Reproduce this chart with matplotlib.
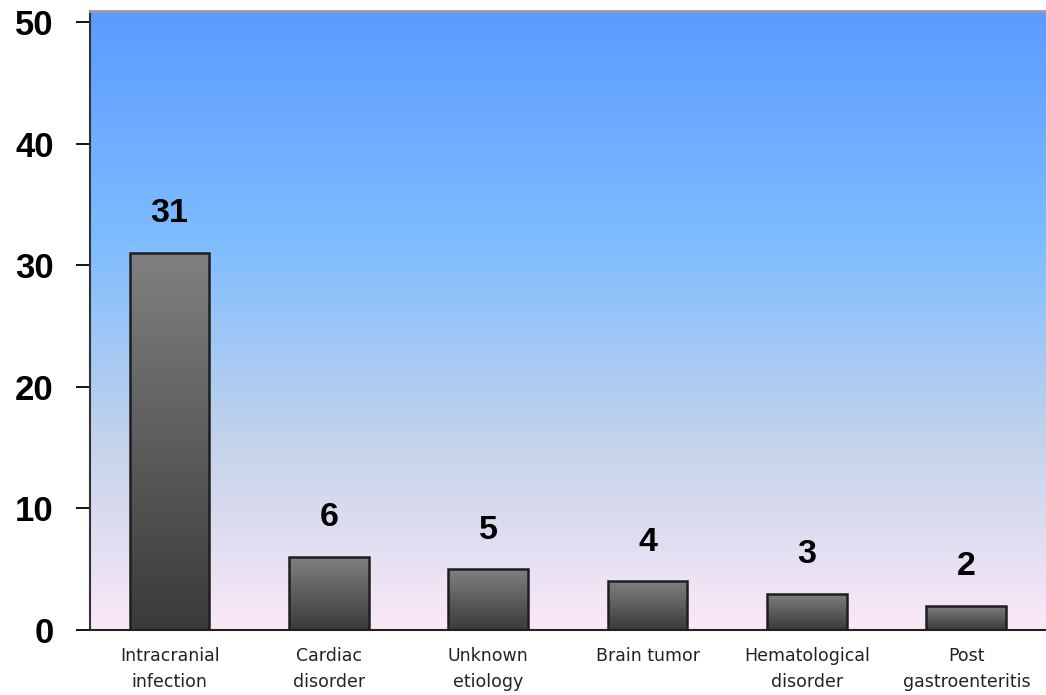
import matplotlib
matplotlib.use('Agg')
import matplotlib.pyplot as plt
import numpy as np
from matplotlib.colors import LinearSegmentedColormap

categories = ['Intracranial\ninfection', 'Cardiac\ndisorder', 'Unknown\netiology',
              'Brain tumor', 'Hematological\ndisorder', 'Post\ngastroenteritis']
counts = [31, 6, 5, 4, 3, 2]
yticks = [0, 10, 20, 30, 40, 50]

fig = plt.figure(figsize=(10.46, 6.95), dpi=100)
ax = fig.add_axes([0.086, 0.0935, 0.914, 0.8905])
ax.set_xlim(-0.5, len(categories) - 0.5)
ax.set_ylim(0, 50.9)

# background gradient: blue at top -> pale pink at bottom
bg_cmap = LinearSegmentedColormap.from_list(
    'bg', [(0.0, '#fbe8f7'), (0.30, '#c4d3ea'), (0.62, '#7fbdff'), (1.0, '#5b9bff')])
grad = np.linspace(0, 1, 256).reshape(-1, 1)
ax.imshow(grad, cmap=bg_cmap, origin='lower', aspect='auto',
          extent=[-0.5, len(categories) - 0.5, 0, 50.9], zorder=0)

# bars with a vertical grey gradient
bar_cmap = LinearSegmentedColormap.from_list('bar', ['#3a3a3a', '#808080'])
bars = ax.bar(range(len(categories)), counts, width=0.5, facecolor='none',
              edgecolor='#1e1e1e', linewidth=1.8, zorder=3)
for b, v in zip(bars, counts):
    x0 = b.get_x()
    im = ax.imshow(grad, cmap=bar_cmap, origin='lower', aspect='auto',
                   extent=[x0, x0 + b.get_width(), 0, v], zorder=2)
    im.set_clip_path(b)
    ax.annotate(str(v), (b.get_x() + b.get_width() / 2, v), xytext=(0, 17),
                textcoords='offset points', ha='center', va='bottom',
                fontsize=24.5, fontweight='bold', family='Liberation Sans')

ax.set_xlim(-0.5, len(categories) - 0.5)
ax.set_ylim(0, 50.9)

ax.set_yticks(yticks)
ax.set_yticklabels([str(t) for t in yticks], fontsize=25, fontweight='bold',
                   family='Liberation Sans')
ax.tick_params(axis='y', length=10, width=1.3, pad=16, direction='out')
ax.set_xticks(range(len(categories)))
ax.set_xticklabels(categories, fontsize=12.5, family='DejaVu Sans',
                   linespacing=1.6, color='#222222')
ax.tick_params(axis='x', length=0, pad=12)

ax.spines['right'].set_visible(False)
ax.spines['top'].set_color('#999999')
ax.spines['top'].set_linewidth(2)
ax.spines['left'].set_linewidth(1.5)
ax.spines['left'].set_color('#333333')
ax.spines['bottom'].set_linewidth(1.5)
ax.spines['bottom'].set_color('#222222')

fig.savefig('out.png', dpi=100)
